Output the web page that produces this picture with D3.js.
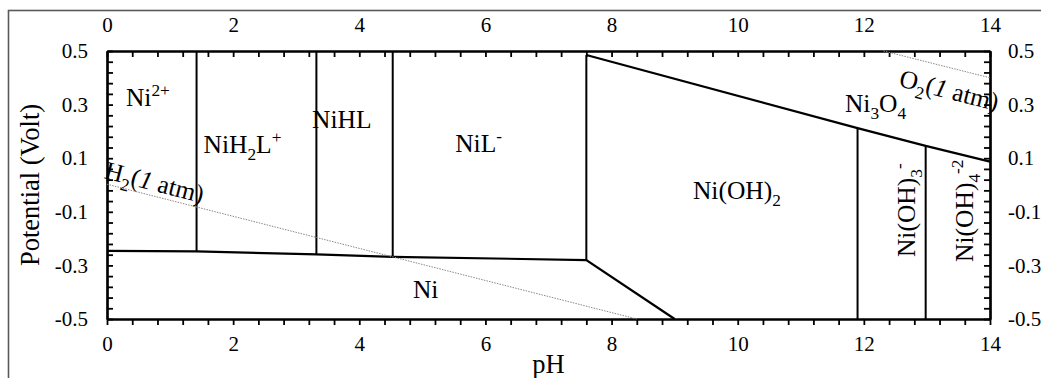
<!DOCTYPE html>
<html>
<head>
<meta charset="utf-8">
<script src="https://cdn.jsdelivr.net/npm/d3@7"></script>
<style>
  body { margin: 0; background: #fff; }
  svg text { font-family: "Liberation Serif", "Times New Roman", serif; fill: #000; }
</style>
</head>
<body>
<div id="wrapper"></div>
<script>
// region boundaries (pH, potential in V)
const lowerPH = [0, 1.42, 3.32, 4.53, 7.6, 9.0]
const lowerE = [-0.246, -0.248, -0.259, -0.268, -0.280, -0.5]
const upperPH = [7.6, 11.9, 12.98, 14]
const upperE = [0.485, 0.212, 0.146, 0.087]

const verticalPH = [1.42, 3.32, 4.53, 7.6, 11.9, 12.98]
const verticalBottom = [-0.248, -0.259, -0.268, -0.280, -0.5, -0.5]
const verticalTop = [0.5, 0.5, 0.5, 0.485, 0.212, 0.146]

// water stability lines
const h2PH = [0, 8.4]
const h2E = [0.003, -0.5]
const o2PH = [12.31, 14]
const o2E = [0.5, 0.40]

// species labels
const labelText = ["Ni^{2+}", "NiH_{2}L^{+}", "NiHL", "NiL^{-}", "Ni(OH)_{2}", "Ni_{3}O_{4}", "Ni", "Ni(OH)_{3}^{-}", "Ni(OH)_{4}^{-2}"]
const labelPH = [0.30, 1.53, 3.25, 5.52, 9.29, 11.70, 4.85, 12.81, 13.73]
const labelE = [0.295, 0.12, 0.213, 0.124, -0.052, 0.273, -0.422, -0.269, -0.287]
const labelUpright = [false, false, false, false, false, false, false, true, true]

const gasText = ["H_{2}(*{1} atm)", "O_{2}(*{1} atm)"]
const gasPH = [-0.06, 12.54]
const gasE = [0.026, 0.369]

const xTicks = [0, 2, 4, 6, 8, 10, 12, 14]
const yTicks = [-0.5, -0.3, -0.1, 0.1, 0.3, 0.5]

const fontStack = '"Liberation Serif", "Times New Roman", Times, serif'

function drawDiagram(){
    let dimensions = {
        width: 1041,
        height: 378,
        margin: { top: 51, right: 51, bottom: 59, left: 107 },
    }
    dimensions.boundedWidth = dimensions.width - dimensions.margin.left - dimensions.margin.right
    dimensions.boundedHeight = dimensions.height - dimensions.margin.top - dimensions.margin.bottom

    const wrapper = d3.select("#wrapper")
        .append("svg")
        .attr("width", dimensions.width)
        .attr("height", dimensions.height)
        .attr("font-family", fontStack)

    // outer frame of the figure
    wrapper.append("rect")
        .attr("x", 8.5).attr("y", 10.5)
        .attr("width", 1100).attr("height", 500)
        .attr("fill", "none")
        .attr("stroke", "#5a5a5a")
        .attr("stroke-width", 1.6)

    const bounds = wrapper.append("g")
        .attr("transform", `translate(${dimensions.margin.left},${dimensions.margin.top})`)

    const xScale = d3.scaleLinear().domain([0, 14]).range([0, dimensions.boundedWidth])
    const yScale = d3.scaleLinear().domain([-0.5, 0.5]).range([dimensions.boundedHeight, 0])

    const xMinor = d3.range(0, 70.5, 2).map(d => d / 5).filter(d => !xTicks.includes(d))
    const yMinor = d3.range(0, 25.5, 1).map(d => +(-0.5 + d * 0.04).toFixed(2)).filter(d => !yTicks.includes(d))

    const fmtY = d => d.toFixed(1)

    // axes
    const bottom = bounds.append("g").attr("transform", `translate(0,${dimensions.boundedHeight})`)
    bottom.append("g").call(d3.axisBottom(xScale).tickValues(xMinor).tickSize(6).tickSizeOuter(0).tickFormat(""))
    bottom.append("g").call(d3.axisBottom(xScale).tickValues(xTicks).tickSize(6).tickSizeOuter(0).tickPadding(11))

    const top = bounds.append("g")
    top.append("g").call(d3.axisTop(xScale).tickValues(xMinor).tickSize(-6).tickSizeOuter(0).tickFormat(""))
    top.append("g").call(d3.axisTop(xScale).tickValues(xTicks).tickSize(-6).tickSizeOuter(0).tickPadding(19))

    const left = bounds.append("g")
    left.append("g").call(d3.axisLeft(yScale).tickValues(yMinor).tickSize(-6).tickSizeOuter(0).tickFormat(""))
    left.append("g").call(d3.axisLeft(yScale).tickValues(yTicks).tickSize(-6).tickSizeOuter(0).tickPadding(19).tickFormat(fmtY))

    const right = bounds.append("g").attr("transform", `translate(${dimensions.boundedWidth},0)`)
    right.append("g").call(d3.axisRight(yScale).tickValues(yMinor).tickSize(-6).tickSizeOuter(0).tickFormat(""))
    right.append("g").call(d3.axisRight(yScale).tickValues(yTicks).tickSize(-6).tickSizeOuter(0).tickPadding(18).tickFormat(fmtY))

    bounds.selectAll("g").attr("font-family", fontStack)
    bounds.selectAll(".domain").attr("stroke", "#000").attr("stroke-width", 2.2)
    bounds.selectAll(".tick line").attr("stroke", "#000").attr("stroke-width", 1.8)
    bounds.selectAll(".tick text")
        .attr("font-family", fontStack)
        .style("font-size", "21px")
        .attr("fill", "#000")

    // boundaries
    const lineGenerator = d3.line()
        .x(d => xScale(d[0]))
        .y(d => yScale(d[1]))

    bounds.append("path")
        .attr("d", lineGenerator(d3.zip(lowerPH, lowerE)))
        .attr("fill", "none").attr("stroke", "#000").attr("stroke-width", 2.2)
    bounds.append("path")
        .attr("d", lineGenerator(d3.zip(upperPH, upperE)))
        .attr("fill", "none").attr("stroke", "#000").attr("stroke-width", 2.2)

    bounds.selectAll(".vline")
        .data(verticalPH.map((p, i) => [p, verticalBottom[i], verticalTop[i]]))
        .join("line")
        .attr("class", "vline")
        .attr("x1", d => xScale(d[0])).attr("x2", d => xScale(d[0]))
        .attr("y1", d => yScale(d[1])).attr("y2", d => yScale(d[2]))
        .attr("stroke", "#000").attr("stroke-width", 2)

    // water lines
    ;[[h2PH, h2E], [o2PH, o2E]].forEach(([ph, e]) => {
        bounds.append("path")
            .attr("d", lineGenerator(d3.zip(ph, e)))
            .attr("fill", "none")
            .attr("stroke", "#888")
            .attr("stroke-width", 1)
            .attr("stroke-dasharray", "1.5,1.2")
    })

    // text with _{sub} ^{sup} *{italic}
    function richText(sel, str, size){
        const parts = str.split(/([_^*]\{[^}]*\})/).filter(s => s.length)
        let shift = 0
        parts.forEach(p => {
            const m = p.match(/^([_^*])\{([^}]*)\}$/)
            const t = sel.append("tspan")
            if (m && m[1] !== "*"){
                const target = m[1] === "_" ? size * 0.28 : -size * 0.38
                t.attr("dy", target - shift).style("font-size", (size * 0.68) + "px").text(m[2])
                shift = target
            } else {
                t.attr("dy", -shift).style("font-size", size + "px").text(m ? m[2] : p)
                if (m) t.style("font-style", "italic")
                shift = 0
            }
        })
    }

    labelText.forEach((s, i) => {
        const t = bounds.append("text")
            .attr("font-family", fontStack)
            .attr("transform", `translate(${xScale(labelPH[i])},${yScale(labelE[i])})` + (labelUpright[i] ? " rotate(-90)" : ""))
        richText(t, s, 25.5)
    })

    gasText.forEach((s, i) => {
        const ph = i === 0 ? h2PH : o2PH
        const e = i === 0 ? h2E : o2E
        const angle = Math.atan2(yScale(e[1]) - yScale(e[0]), xScale(ph[1]) - xScale(ph[0])) * 180 / Math.PI
        const t = bounds.append("text")
            .attr("font-family", fontStack)
            .attr("transform", `translate(${xScale(gasPH[i])},${yScale(gasE[i])}) rotate(${angle})`)
        richText(t, s, 25.5)
    })

    // axis titles
    bounds.append("text")
        .attr("x", dimensions.boundedWidth / 2)
        .attr("y", dimensions.boundedHeight + 54)
        .attr("text-anchor", "middle")
        .attr("font-family", fontStack)
        .style("font-size", "26.5px")
        .text("pH")

    bounds.append("text")
        .attr("transform", `translate(${-68},${dimensions.boundedHeight / 2}) rotate(-90)`)
        .attr("text-anchor", "middle")
        .attr("font-family", fontStack)
        .style("font-size", "26.5px")
        .text("Potential (Volt)")
}
drawDiagram()
</script>
</body>
</html>
